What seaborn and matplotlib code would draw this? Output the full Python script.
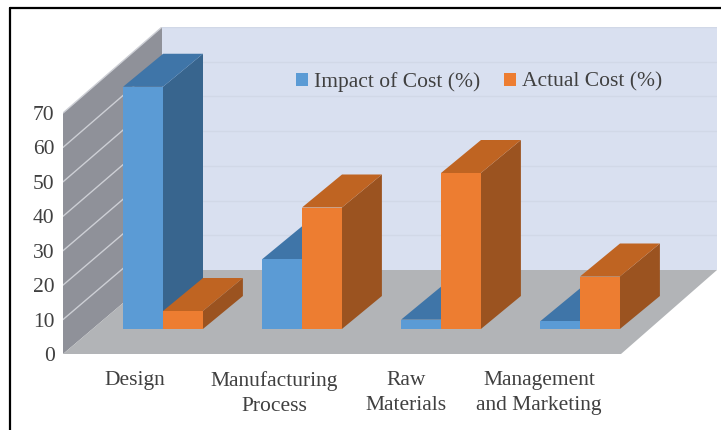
import numpy as np
import pandas as pd
import matplotlib
matplotlib.use("Agg")
import matplotlib.pyplot as plt
from matplotlib.patches import Polygon
from matplotlib.lines import Line2D
import seaborn as sns

categories = ["Design", "Manufacturing\nProcess", "Raw\nMaterials", "Management\nand Marketing"]
impact_of_cost = [75, 25, 7.5, 7]
actual_cost = [10, 40, 50, 20]
series_names = ["Impact of Cost (%)", "Actual Cost (%)"]
y_ticks = [0, 10, 20, 30, 40, 50, 60, 70]

sns.set_theme(style="white")
plt.rcParams["font.family"] = ["Liberation Serif", "DejaVu Sans"]
TEXT = "#404040"
W, H = 721, 430
fig = plt.figure(figsize=(W / 100, H / 100), dpi=100, facecolor="white")
# axes frame = front-left of the floor to the back-top-right of the wall
L, R, T, B = 63, 717, 27, 354
ax = fig.add_axes([L / W, 1 - B / H, (R - L) / W, (B - T) / H])

df = pd.DataFrame({
    "cat": categories * 2,
    "val": impact_of_cost + actual_cost,
    "series": [series_names[0]] * 4 + [series_names[1]] * 4,
})
sns.barplot(data=df, x="cat", y="val", hue="series", hue_order=series_names,
            palette=["#5B9BD5", "#ED7D31"], width=0.574, saturation=1, gap=0,
            dodge=True, ax=ax, linewidth=0, edgecolor="none")

PX_CAT, PX_VAL = 139.0, 3.45
ax.set_xlim((L - 163) / PX_CAT, (R - 163) / PX_CAT)
ax.set_ylim((345.5 - B) / PX_VAL, (345.5 - T) / PX_VAL)
ax.set_xlabel("")
ax.set_ylabel("")
for s in ax.spines.values():
    s.set_visible(False)
ax.patch.set_alpha(0)

# walls, in axes fractions
DX, DY = 99 / (R - L), 84 / (B - T)
FRONT_70 = (B - 113) / (B - T)
tr = ax.transAxes
ax.add_patch(Polygon([(DX, DY), (1, DY), (1, 1), (DX, 1)], transform=tr, fc="#D9E0F0", ec="none", zorder=0.1))
ax.add_patch(Polygon([(0, 0), (DX, DY), (DX, 1), (0, FRONT_70)], transform=tr, fc="#8F9199", ec="none", zorder=0.2))
ax.add_patch(Polygon([(0, 0), ((621 - L) / (R - L), 0), (1, DY), (DX, DY)], transform=tr, fc="#B2B4B7", ec="none", zorder=0.2))
for t in y_ticks[1:]:
    f = t / 70
    yf, yb = f * FRONT_70, DY + f * (1 - DY)
    ax.plot([0, DX], [yf, yb], transform=tr, color="#CDCFD5", lw=1.0, zorder=0.3)
    ax.plot([DX, 1], [yb, yb], transform=tr, color="#D1D8E7", lw=1.0, zorder=0.3)

# 3-D faces built from the seaborn bars
BASE = (345.5 - 329) / PX_VAL
dx3, dy3 = 40 / PX_CAT, 33 / PX_VAL
shades = [("#3F75A8", "#38658E"), ("#BF6422", "#9B5320")]
bars = []
for k, cont in enumerate(ax.containers):
    for p in cont.patches:
        bars.append((p.get_x(), k, p))
for i, (_, k, p) in enumerate(sorted(bars, key=lambda b: b[0])):
    top_val = p.get_height()
    p.set_y(BASE)
    p.set_height(top_val - BASE)
    x0, x1 = p.get_x(), p.get_x() + p.get_width()
    z = 2 + i
    ax.add_patch(Polygon([(x1, BASE), (x1 + dx3, BASE + dy3), (x1 + dx3, top_val + dy3), (x1, top_val)],
                         fc=shades[k][1], ec="none", zorder=z, clip_on=False))
    ax.add_patch(Polygon([(x0, top_val), (x1, top_val), (x1 + dx3, top_val + dy3), (x0 + dx3, top_val + dy3)],
                         fc=shades[k][0], ec="none", zorder=z, clip_on=False))
    p.set_zorder(z + 0.5)
    p.set_clip_on(False)

# axis labels
shift = (B - 345.5) / PX_VAL
ax.set_yticks([t * (FRONT_70 * (B - T) / PX_VAL / 70) - shift for t in y_ticks], labels=y_ticks)
ax.tick_params(axis="y", length=0, pad=6, labelsize=15.5, labelcolor=TEXT)
label_centres = [135, 274, 406, 539]
ax.set_xticks([(c - 163) / PX_CAT for c in label_centres], labels=categories)
ax.tick_params(axis="x", length=0, pad=12.5, labelsize=15.5, labelcolor=TEXT)
for lab in ax.get_xticklabels():
    lab.set_linespacing(1.42)
    lab.set_ha("center")

handles, labels = ax.get_legend_handles_labels()
leg = ax.legend(handles, labels, ncol=2, frameon=False, fontsize=15.5,
                loc="center", bbox_to_anchor=((479 - L) / (R - L), (B - 82) / (B - T)),
                handlelength=0.56, handleheight=0.56, handletextpad=0.28, columnspacing=1.08,
                labelcolor=TEXT, borderpad=0)
leg.set_zorder(50)

# picture frame: left and top rules only
fig.add_artist(Line2D([9.5 / W, 9.5 / W], [0, 1 - 7.5 / H], color="black", lw=1.6))
fig.add_artist(Line2D([9.5 / W, 1], [1 - 7.5 / H, 1 - 7.5 / H], color="black", lw=1.6))

fig.savefig("out.png", dpi=100, facecolor="white")
